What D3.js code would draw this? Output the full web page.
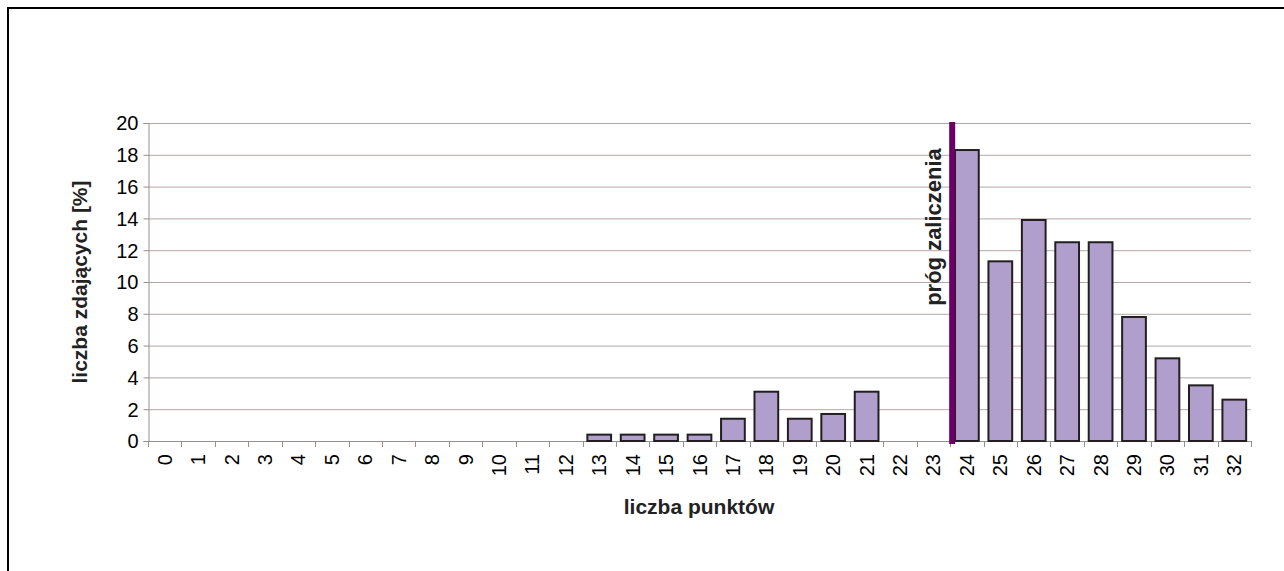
<!DOCTYPE html>
<html><head><meta charset="utf-8">
<script src="https://cdn.jsdelivr.net/npm/d3@7"></script>
<style>body{margin:0;background:#fff}svg{display:block;font-family:"Liberation Sans",Arial,sans-serif}</style>
</head><body><svg id="c" width="1284" height="571"></svg>
<script>
const categories = ["0","1","2","3","4","5","6","7","8","9","10","11","12","13","14","15","16","17","18","19","20","21","22","23","24","25","26","27","28","29","30","31","32"];
const values = [0,0,0,0,0,0,0,0,0,0,0,0,0,0.4,0.4,0.4,0.4,1.4,3.1,1.4,1.7,3.1,0,0,18.3,11.3,13.9,12.5,12.5,7.8,5.2,3.5,2.6];
const yTicks = [0,2,4,6,8,10,12,14,16,18,20];
const threshold = "24";
const thresholdLabel = "próg zaliczenia";
const xTitle = "liczba punktów";
const yTitle = "liczba zdających [%]";

const svg = d3.select("#c");
const m = {l:148, r:1251, t:123, b:441};
const x = d3.scaleBand().domain(categories).range([m.l, m.r]).paddingInner(0.29).paddingOuter(0.145);
const xb = d3.scaleBand().domain(categories).range([m.l, m.r]);
const y = d3.scaleLinear().domain([0,20]).range([m.b, m.t]);

// outer frame
svg.append("rect").attr("x",8).attr("y",8).attr("width",1400).attr("height",700)
  .attr("fill","none").attr("stroke","#000").attr("stroke-width",2);

// gridlines
svg.append("g").selectAll("line").data(yTicks.filter(d=>d>0)).join("line")
  .attr("x1",m.l).attr("x2",m.r).attr("y1",d=>y(d)+0.5).attr("y2",d=>y(d)+0.5)
  .attr("stroke","#b4a6a6").attr("stroke-width",1);

// y axis
const ya = svg.append("g").attr("transform",`translate(${m.l+0.5},0)`)
  .call(d3.axisLeft(y).tickValues(yTicks).tickSize(5).tickPadding(5));
ya.select(".domain").attr("stroke","#9a8e8e");
ya.selectAll(".tick line").attr("stroke","#9a8e8e");
ya.selectAll("text").attr("font-size",20).attr("fill","#000").attr("font-family","Liberation Sans, Arial").attr("dy","0.34em");

// x axis baseline & ticks
const xa = svg.append("g");
xa.append("line").attr("x1",m.l).attr("x2",m.r).attr("y1",m.b+0.5).attr("y2",m.b+0.5).attr("stroke","#9a8e8e");
const bounds = categories.map(c=>xb(c)).concat([m.r]);
xa.selectAll(".tk").data(bounds).join("line").attr("class","tk")
  .attr("x1",d=>Math.round(d)+0.5).attr("x2",d=>Math.round(d)+0.5).attr("y1",m.b).attr("y2",m.b+6)
  .attr("stroke","#9a8e8e");
xa.selectAll(".lb").data(categories).join("text").attr("class","lb")
  .attr("transform",d=>`translate(${xb(d)+xb.bandwidth()/2+7},${m.b+13}) rotate(-90)`)
  .attr("text-anchor","end").attr("font-size",20).attr("fill","#000").text(d=>d);

// bars
svg.append("g").selectAll("rect").data(categories.map((c,i)=>({c,v:values[i]})).filter(d=>d.v>0)).join("rect")
  .attr("x",d=>x(d.c)).attr("width",x.bandwidth())
  .attr("y",d=>y(d.v)).attr("height",d=>y(0)-y(d.v))
  .attr("fill","#b09fcc").attr("stroke","#231f20").attr("stroke-width",2);

// threshold line
const tx = xb(threshold);
svg.append("line").attr("x1",tx+2).attr("x2",tx+2).attr("y1",m.t-1).attr("y2",m.b+3)
  .attr("stroke","#6a0066").attr("stroke-width",6);
svg.append("text").attr("transform",`translate(${tx-9},${(m.t+m.b)/2-55}) rotate(-90)`)
  .attr("text-anchor","middle").attr("font-size",22).attr("font-weight","bold").attr("fill","#222").text(thresholdLabel);

// titles
svg.append("text").attr("x",699).attr("y",514).attr("text-anchor","middle")
  .attr("font-size",21).attr("font-weight","bold").attr("fill","#222").text(xTitle);
svg.append("text").attr("transform",`translate(87,282) rotate(-90)`).attr("text-anchor","middle")
  .attr("font-size",21).attr("font-weight","bold").attr("fill","#222").text(yTitle);
</script></body></html>
